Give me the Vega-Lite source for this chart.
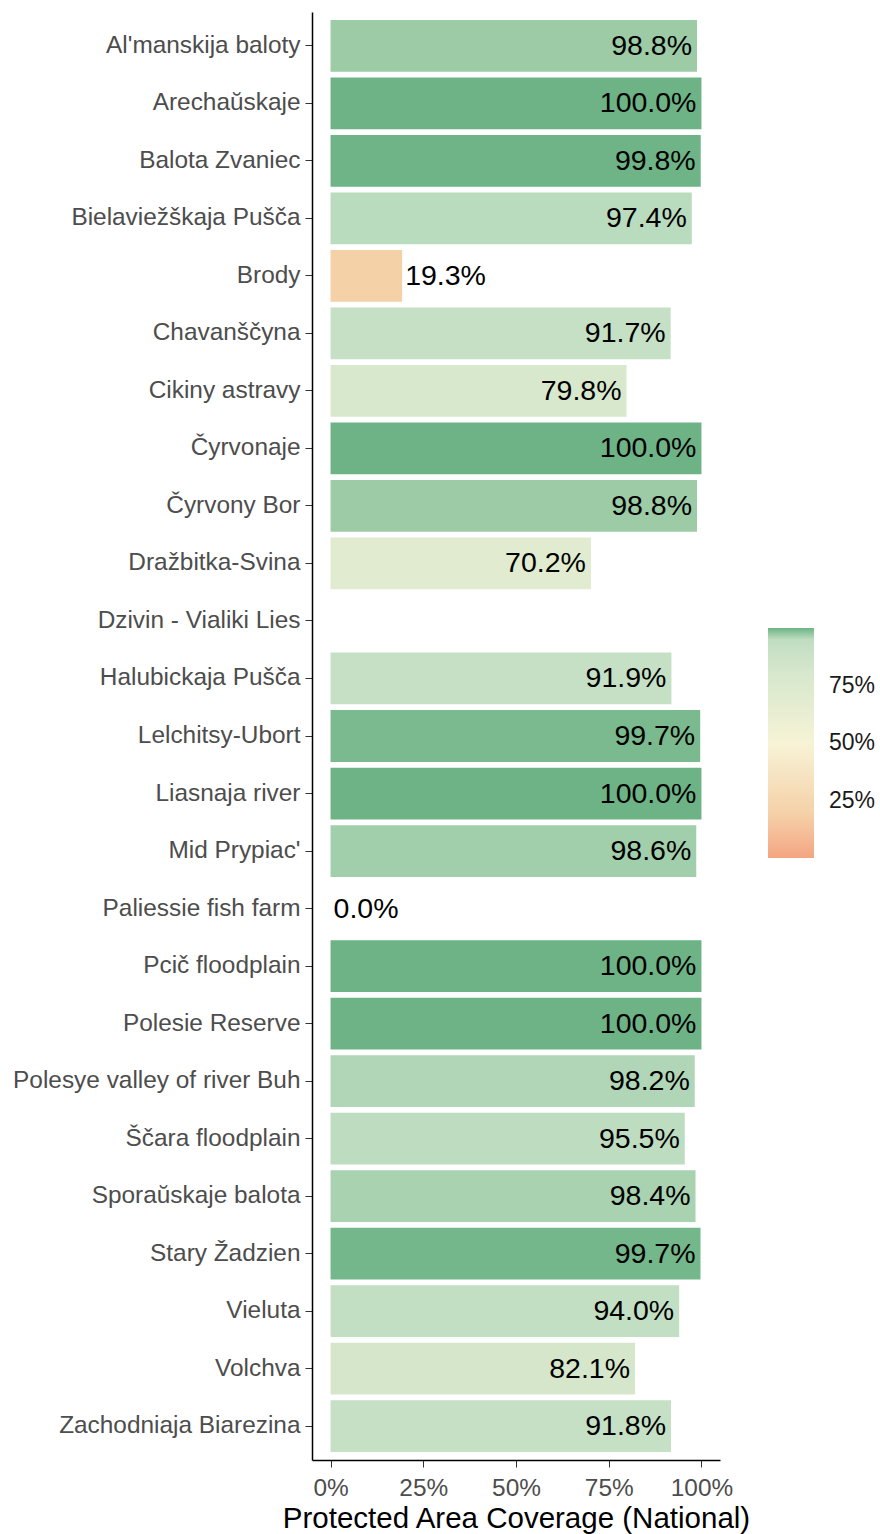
{
  "$schema": "https://vega.github.io/schema/vega-lite/v6.json",
  "autosize": "none",
  "width": 408,
  "height": 1448,
  "padding": {"left": 312, "top": 12, "right": 160, "bottom": 74},
  "background": "white",
  "config": {
    "view": {"stroke": null},
    "font": "Liberation Sans"
  },
  "data": {
    "values": [
      {"site": "Al'manskija baloty", "cov": 98.8},
      {"site": "Arechaŭskaje", "cov": 100.0},
      {"site": "Balota Zvaniec", "cov": 99.8},
      {"site": "Bielaviežškaja Pušča", "cov": 97.4},
      {"site": "Brody", "cov": 19.3},
      {"site": "Chavanščyna", "cov": 91.7},
      {"site": "Cikiny astravy", "cov": 79.8},
      {"site": "Čyrvonaje", "cov": 100.0},
      {"site": "Čyrvony Bor", "cov": 98.8},
      {"site": "Dražbitka-Svina", "cov": 70.2},
      {"site": "Dzivin - Vialiki Lies", "cov": null},
      {"site": "Halubickaja Pušča", "cov": 91.9},
      {"site": "Lelchitsy-Ubort", "cov": 99.66},
      {"site": "Liasnaja river", "cov": 100.0},
      {"site": "Mid Prypiac'", "cov": 98.6},
      {"site": "Paliessie fish farm", "cov": 0.0},
      {"site": "Pcič floodplain", "cov": 100.0},
      {"site": "Polesie Reserve", "cov": 100.0},
      {"site": "Polesye valley of river Buh", "cov": 98.2},
      {"site": "Ščara floodplain", "cov": 95.5},
      {"site": "Sporaŭskaje balota", "cov": 98.4},
      {"site": "Stary Žadzien", "cov": 99.74},
      {"site": "Vieluta", "cov": 94.0},
      {"site": "Volchva", "cov": 82.1},
      {"site": "Zachodniaja Biarezina", "cov": 91.8}
    ]
  },
  "encoding": {
    "y": {
      "field": "site",
      "type": "nominal",
      "sort": null,
      "scale": {
        "domain": ["Al'manskija baloty", "Arechaŭskaje", "Balota Zvaniec", "Bielaviežškaja Pušča", "Brody", "Chavanščyna", "Cikiny astravy", "Čyrvonaje", "Čyrvony Bor", "Dražbitka-Svina", "Dzivin - Vialiki Lies", "Halubickaja Pušča", "Lelchitsy-Ubort", "Liasnaja river", "Mid Prypiac'", "Paliessie fish farm", "Pcič floodplain", "Polesie Reserve", "Polesye valley of river Buh", "Ščara floodplain", "Sporaŭskaje balota", "Stary Žadzien", "Vieluta", "Volchva", "Zachodniaja Biarezina"],
        "paddingInner": 0.1,
        "paddingOuter": 0.141
      },
      "axis": {
        "title": null,
        "domainColor": "#000000",
        "domainWidth": 1.5,
        "tickColor": "#333333",
        "tickSize": 7,
        "labelFontSize": 24.4,
        "labelColor": "#4d4d4d",
        "labelPadding": 5,
        "labelLimit": 400
      }
    }
  },
  "layer": [
    {
      "mark": {"type": "bar"},
      "encoding": {
        "x": {
          "field": "cov",
          "type": "quantitative",
          "scale": {"domain": [-5, 105], "nice": false, "zero": false},
          "axis": {
            "title": "Protected Area Coverage (National)",
            "titleFontSize": 29.5,
            "titleFontWeight": "normal",
            "titleColor": "#000000",
            "titlePadding": 5,
            "values": [0, 25, 50, 75, 100],
            "labelExpr": "datum.value + '%'",
            "labelFontSize": 24.4,
            "labelColor": "#4d4d4d",
            "labelPadding": 9,
            "domainColor": "#000000",
            "domainWidth": 1.5,
            "tickColor": "#333333",
            "tickSize": 7,
            "grid": false
          }
        },
        "x2": {"datum": 0},
        "color": {
          "field": "cov",
          "type": "quantitative",
          "scale": {
            "domain": [0, 19.3, 50, 70.2, 79.8, 82.1, 91.8, 94, 95.5, 97.4, 98.2, 98.4, 98.6, 98.8, 99.66, 99.74, 99.8, 100],
            "range": ["#f4a582", "#f5d1a8", "#f7f3d6", "#e0ebcf", "#d7e8cd", "#d5e6ca", "#c5e0c5", "#c2dfc3", "#bedcbf", "#b9dbbe", "#b1d6b7", "#a8d2b0", "#a2cfab", "#9ccba6", "#7aba8e", "#74b78b", "#6eb487", "#6db386"],
            "interpolate": "rgb"
          },
          "legend": {
            "title": null,
            "orient": "none",
            "legendX": 456,
            "legendY": 616,
            "direction": "vertical",
            "gradientLength": 230,
            "gradientThickness": 46,
            "gradientStrokeWidth": 0,
            "values": [25, 50, 75],
            "labelExpr": "datum.value + '%'",
            "labelFontSize": 23,
            "labelColor": "#1a1a1a",
            "labelOffset": 15
          }
        }
      }
    },
    {
      "transform": [
        {"filter": "datum.cov != null && datum.cov >= 50"},
        {"calculate": "format(datum.cov, '.1f') + '%'", "as": "lab"}
      ],
      "mark": {"type": "text", "align": "right", "baseline": "middle", "dx": -5, "fontSize": 28.5, "color": "#000000"},
      "encoding": {
        "x": {"field": "cov", "type": "quantitative"},
        "text": {"field": "lab", "type": "nominal"}
      }
    },
    {
      "transform": [
        {"filter": "datum.cov != null && datum.cov < 50"},
        {"calculate": "format(datum.cov, '.1f') + '%'", "as": "lab"}
      ],
      "mark": {"type": "text", "align": "left", "baseline": "middle", "dx": 3, "fontSize": 28.5, "color": "#000000"},
      "encoding": {
        "x": {"field": "cov", "type": "quantitative"},
        "text": {"field": "lab", "type": "nominal"}
      }
    }
  ]
}
